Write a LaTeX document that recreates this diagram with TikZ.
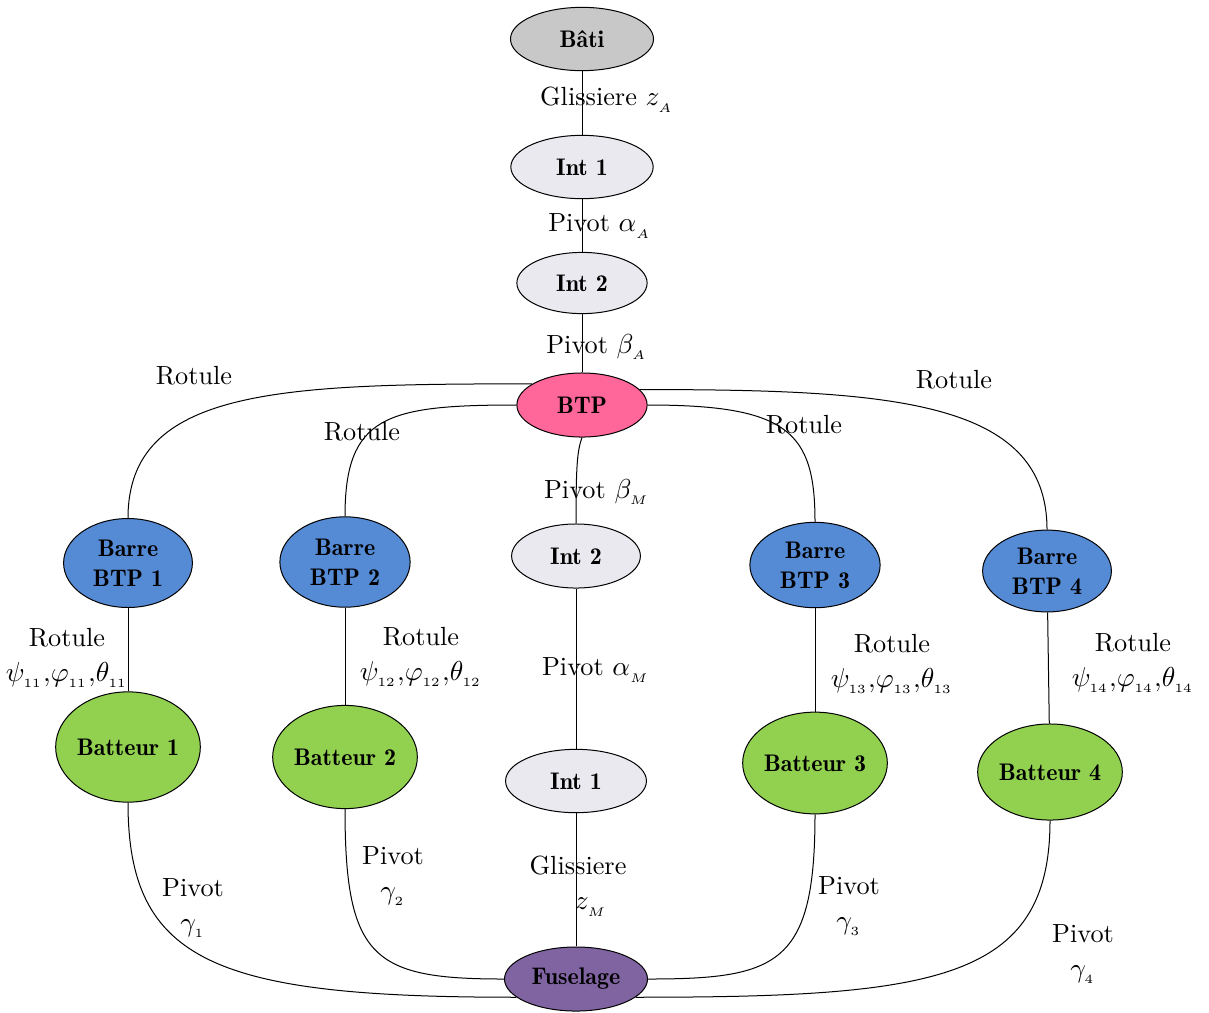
\documentclass[tikz,border=0pt]{standalone}
\usepackage{amsmath,amssymb}
\usepackage{tikz}
\usetikzlibrary{shapes.geometric}
\definecolor{batigray}{HTML}{C8C8C8}
\definecolor{intgray}{HTML}{EBE9F0}
\definecolor{btppink}{HTML}{FF6699}
\definecolor{barreblue}{HTML}{558AD5}
\definecolor{battgreen}{HTML}{92D050}
\definecolor{fuspurple}{HTML}{8064A2}

\begin{document}
\begin{tikzpicture}[x=0.01406cm,y=0.01406cm,
  part/.style={draw,ellipse,inner sep=0pt,align=center,
               font=\fontsize{9.6}{12}\fontseries{b}\selectfont},
  lbl/.style={align=center,inner sep=1pt,font=\fontsize{10.5}{14}\selectfont}]
\useasboundingbox (0,0) rectangle (1209,-1012);
% chaine du bati
\node[part,fill=batigray,minimum width=2.01cm,minimum height=0.89cm] (bati) at (582,-39) {Bâti};
\node[part,fill=intgray,minimum width=2.0cm,minimum height=0.89cm] (intA1) at (582,-167) {Int 1};
\node[part,fill=intgray,minimum width=1.83cm,minimum height=0.86cm] (intA2) at (582,-283) {Int 2};
\node[part,fill=btppink,minimum width=1.83cm,minimum height=0.9cm] (btp) at (582,-405) {BTP};
% barres et batteurs
\node[part,fill=barreblue,minimum width=1.81cm,minimum height=1.25cm] (barre1) at (128,-563) {Barre\\BTP 1};
\node[part,fill=barreblue,minimum width=1.83cm,minimum height=1.27cm] (barre2) at (345,-562) {Barre\\BTP 2};
\node[part,fill=barreblue,minimum width=1.83cm,minimum height=1.2cm] (barre3) at (815,-565) {Barre\\BTP 3};
\node[part,fill=barreblue,minimum width=1.81cm,minimum height=1.15cm] (barre4) at (1047,-571) {Barre\\BTP 4};
\node[part,fill=battgreen,minimum width=2.0cm,minimum height=1.55cm] (batt1) at (128,-747) {Batteur 1};
\node[part,fill=battgreen,minimum width=2.0cm,minimum height=1.45cm] (batt2) at (345,-757) {Batteur 2};
\node[part,fill=battgreen,minimum width=2.0cm,minimum height=1.43cm] (batt3) at (815,-763) {Batteur 3};
\node[part,fill=battgreen,minimum width=2.0cm,minimum height=1.35cm] (batt4) at (1050,-772) {Batteur 4};
% chaine du fuselage
\node[part,fill=intgray,minimum width=1.81cm,minimum height=0.9cm] (intM2) at (576,-556) {Int 2};
\node[part,fill=intgray,minimum width=1.98cm,minimum height=0.89cm] (intM1) at (576,-781) {Int 1};
\node[part,fill=fuspurple,minimum width=2.01cm,minimum height=0.9cm] (fus) at (576,-979) {Fuselage};
% liaisons
\draw (bati) -- (intA1);
\draw (intA1) -- (intA2);
\draw (intA2) -- (btp);
\draw (btp.157) to[out=180,in=90,out distance=3.52cm,in distance=1.83cm] (barre1.north);
\draw (btp.west) to[out=180,in=90,out distance=1.83cm,in distance=1.41cm] (barre2.north);
\draw (btp.east) to[out=0,in=90,out distance=1.97cm,in distance=1.27cm] (barre3.north);
\draw (btp.15) to[out=0,in=90,out distance=3.52cm,in distance=1.83cm] (barre4.north);
\draw (btp.south) to[out=-110,in=90,out distance=0.2cm,in distance=0.8cm] (intM2.north);
\draw (intM2) -- (intM1);
\draw (intM1) -- (fus);
\draw (barre1) -- (batt1);
\draw (barre2) -- (batt2);
\draw (barre3) -- (batt3);
\draw (barre4) -- (batt4);
\draw (batt1.south) to[out=-90,in=180,out distance=2.25cm,in distance=4.22cm] (fus.197);
\draw (batt2.south) to[out=-90,in=180,out distance=2.11cm,in distance=1.83cm] (fus.west);
\draw (batt3.south) to[out=-90,in=0,out distance=2.11cm,in distance=1.83cm] (fus.east);
\draw (batt4.south) to[out=-90,in=0,out distance=2.25cm,in distance=4.22cm] (fus.343);
% noms des liaisons
\node[lbl] (lGA) at (607,-100) {Glissiere $z_{_A}$};
\node[lbl] (lPA) at (600,-226) {Pivot $\alpha_{_A}$};
\node[lbl] (lPB) at (597,-347) {Pivot $\beta_{_A}$};
\node[lbl] (lR1) at (194,-376) {Rotule};
\node[lbl] (lR2) at (362,-432) {Rotule};
\node[lbl] (lR3) at (804,-425) {Rotule};
\node[lbl] (lR4) at (954,-380) {Rotule};
\node[lbl] (lPBM) at (597,-492) {Pivot $\beta_{_M}$};
\node[lbl] (lPAM) at (596,-670) {Pivot $\alpha_{_M}$};
\node[lbl] (lGM) at (578,-886) {Glissiere\\\quad$z_{_M}$};
\node[lbl] (lRo1) at (67,-658) {Rotule\\$\psi_{_{11}}{,}\varphi_{_{11}}{,}\theta_{_{11}}$};
\node[lbl] (lRo2) at (421,-657) {Rotule\\$\psi_{_{12}}{,}\varphi_{_{12}}{,}\theta_{_{12}}$};
\node[lbl] (lRo3) at (892,-664) {Rotule\\$\psi_{_{13}}{,}\varphi_{_{13}}{,}\theta_{_{13}}$};
\node[lbl] (lRo4) at (1133,-663) {Rotule\\$\psi_{_{14}}{,}\varphi_{_{14}}{,}\theta_{_{14}}$};
\node[lbl] (lPv1) at (193,-908) {Pivot\\$\gamma_{_1}$};
\node[lbl] (lPv2) at (393,-876) {Pivot\\$\gamma_{_2}$};
\node[lbl] (lPv3) at (849,-906) {Pivot\\$\gamma_{_3}$};
\node[lbl] (lPv4) at (1083,-954) {Pivot\\$\gamma_{_4}$};
\end{tikzpicture}
\end{document}
